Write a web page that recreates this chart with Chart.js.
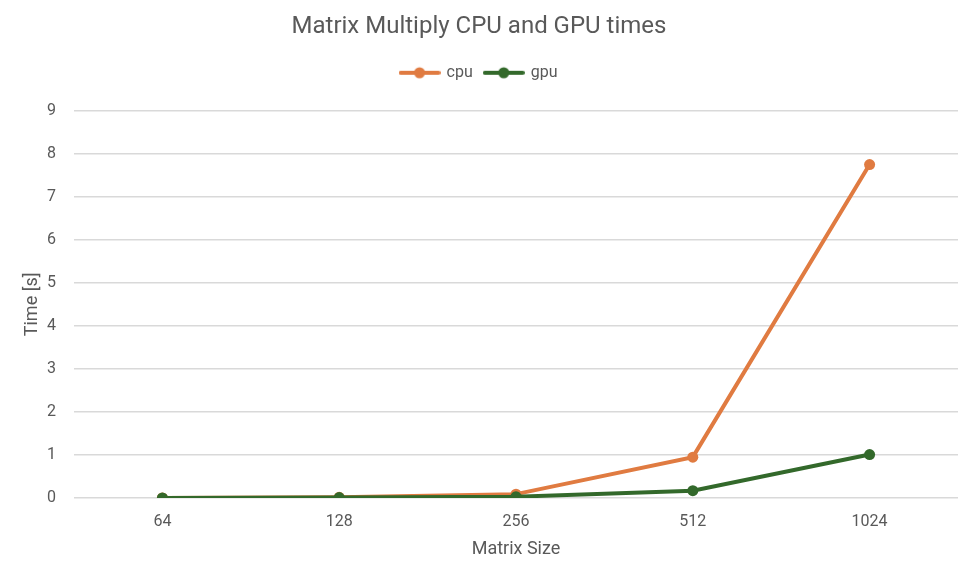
<!DOCTYPE html>
<html><head><meta charset="utf-8">
<script src="https://cdn.jsdelivr.net/npm/chart.js@4"></script>
<style>html,body{margin:0;padding:0;background:#fff}#wrap{width:968px;height:576px}</style>
</head><body><div id="wrap"><canvas id="c" width="968" height="576"></canvas></div>
<script>
const categories = ['64','128','256','512','1024'];
const cpuTimes = [0.0, 0.015, 0.09, 0.95, 7.75];
const gpuTimes = [0.0, 0.01, 0.03, 0.17, 1.01];
const yTicks = [0,1,2,3,4,5,6,7,8,9];
const seriesNames = ['cpu','gpu'];
const seriesColors = ['#E07B41','#33692B'];

const FONT = "Roboto, sans-serif";
function markerImg(color){
  const cv = document.createElement('canvas');
  cv.width = 42; cv.height = 14;
  const x = cv.getContext('2d');
  x.strokeStyle = color; x.lineWidth = 4; x.lineCap = 'round';
  x.beginPath(); x.moveTo(2,7); x.lineTo(40,7); x.stroke();
  x.fillStyle = color; x.beginPath(); x.arc(21,7,5.5,0,Math.PI*2); x.fill();
  return cv;
}
const imgs = seriesColors.map(markerImg);

const spacer = {
  id: 'spacer',
  beforeInit(chart){
    const box = {position: 'top', weight: 500, fullSize: true, options: {}, width: 0, height: 0, top: 0, left: 0, right: 0, bottom: 0,
      update(maxW){ this.width = maxW; this.height = 20; }, draw(){}, isHorizontal(){ return true; }};
    Chart.layouts.addBox(chart, box);
  }
};

new Chart(document.getElementById('c'), {
  type: 'line',
  data: {
    labels: categories,
    datasets: [
      {label: seriesNames[0], data: cpuTimes, order: 1, borderColor: seriesColors[0], backgroundColor: seriesColors[0], borderWidth: 4, pointRadius: 5.5, pointHoverRadius: 5.5, pointBorderWidth: 0, tension: 0},
      {label: seriesNames[1], data: gpuTimes, order: 0, borderColor: seriesColors[1], backgroundColor: seriesColors[1], borderWidth: 4, pointRadius: 5.5, pointHoverRadius: 5.5, pointBorderWidth: 0, tension: 0}
    ]
  },
  plugins: [spacer],
  options: {
    responsive: false, animation: false,
    layout: {padding: {left: 0, right: 10, top: 0, bottom: 0}},
    plugins: {
      title: {display: true, text: 'Matrix Multiply CPU and GPU times', color: '#595959', font: {family: FONT, size: 24, weight: 'normal'}, padding: {top: 13, bottom: 11}},
      legend: {position: 'top', labels: {color: '#595959', font: {family: FONT, size: 16}, usePointStyle: true, pointStyleWidth: 38, padding: 12,
        generateLabels(chart){
          return chart.data.datasets.map((d,i)=>({text: d.label, pointStyle: imgs[i], fillStyle: d.borderColor, strokeStyle: d.borderColor, lineWidth: 0, fontColor: '#595959', datasetIndex: i, hidden: false}));
        }}},
      tooltip: {enabled: false}
    },
    scales: {
      x: {
        offset: true,
        grid: {display: false, drawTicks: false},
        border: {display: false},
        ticks: {color: '#595959', font: {family: FONT, size: 16}, padding: 14},
        title: {display: true, text: 'Matrix Size', color: '#595959', font: {family: FONT, size: 18}, padding: {top: 8, bottom: 16}},
        afterFit(s){ s.height = 78; }
      },
      y: {
        min: 0, max: 9,
        afterBuildTicks(s){ s.ticks = yTicks.map(v=>({value: v})); },
        grid: {color: '#D9D9D9', lineWidth: 1.5, drawTicks: false},
        border: {display: false},
        ticks: {color: '#595959', font: {family: FONT, size: 16}, padding: 18},
        title: {display: true, text: 'Time [s]', color: '#595959', font: {family: FONT, size: 18}, padding: {top: 22, bottom: 6}},
        afterFit(s){ s.width = 74; }
      }
    }
  }
});
</script></body></html>
